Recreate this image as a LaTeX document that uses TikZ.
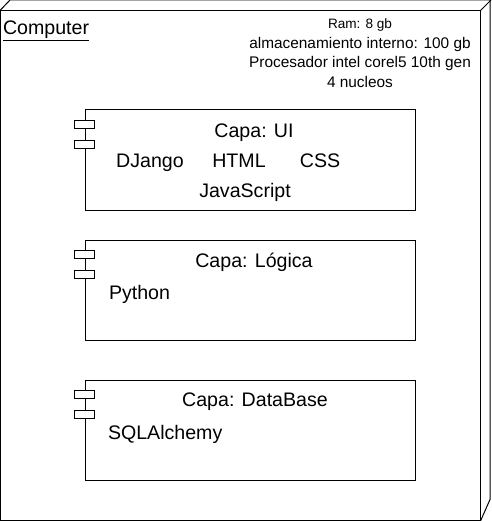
\documentclass[tikz,border=0pt]{standalone}
\usepackage{fontspec}
\setmainfont{Liberation Sans}
\usetikzlibrary{positioning}

\begin{document}
\begin{tikzpicture}[
        x=1pt, y=-1pt,
        line width=1pt,
        device/.style={
          draw,
          rectangle,
          minimum width=479.5pt,
          minimum height=509.5pt,
          inner sep=0pt
        },
        component/.style={
          draw,
          rectangle,
          minimum width=330pt,
          minimum height=100pt,
          inner sep=0pt
        },
        port/.style={
          draw,
          fill=white,
          rectangle,
          minimum width=20pt,
          minimum height=8pt,
          inner sep=0pt
        },
        title/.style={font=\fontsize{19.6}{23}\selectfont, anchor=base, inner sep=0pt},
        tech/.style={font=\fontsize{19.6}{23}\selectfont, anchor=base, inner sep=0pt},
        specs/.style={font=\fontsize{15.4}{19.7}\selectfont, align=center, anchor=north, inner sep=0pt}
      ]
      \useasboundingbox (0,0) rectangle (491,521);

      % Device node (3D box)
      \node[device] (computer) at (240.25,265.75) {};
      \draw (computer.north west) -- ++(10,-10.5) -- ++(480,0) -- ++(0,499.5) -- (computer.south east);
      \draw (computer.north east) -- ++(10.5,-10.5);

      \node[anchor=base west, font=\fontsize{19.6}{23}\selectfont, inner sep=0pt] (computer-label) at (2.5,34.5) {\underline{Computer}};
      \node[specs] (specs) at (360,18) {{\fontsize{13.6}{19.7}\selectfont Ram: 8 gb}\\almacenamiento interno: 100 gb\\Procesador intel corel5 10th gen\\4 nucleos};

      % Components
      \node[component] (ui) at (250,160) {};
      \node[component] (logic) at (250,290) {};
      \node[component] (db) at (250,430) {};

      % Ports on the left side
      \node[port] (ui-p1) at ([yshift=-15pt]ui.north west) {};
      \node[port] (ui-p2) at ([yshift=-35pt]ui.north west) {};
      \node[port] (logic-p1) at ([yshift=-15pt]logic.north west) {};
      \node[port] (logic-p2) at ([yshift=-35pt]logic.north west) {};
      \node[port] (db-p1) at ([yshift=-15pt]db.north west) {};
      \node[port] (db-p2) at ([yshift=-35pt]db.north west) {};

      % Layer texts
      \node[title] (ui-title) at ([xshift=4pt,yshift=-28pt]ui.north) {Capa: UI};
      \node[tech] (django) at (150,168) {DJango};
      \node[tech] (html) at (239,168) {HTML};
      \node[tech] (css) at (320,168) {CSS};
      \node[tech] (js) at (245,197) {JavaScript};

      \node[title] (logic-title) at ([xshift=4pt,yshift=-28pt]logic.north) {Capa: Lógica};
      \node[tech, anchor=base west] (python) at (108.5,299) {Python};

      \node[title] (db-title) at ([xshift=5pt,yshift=-27pt]db.north) {Capa: DataBase};
      \node[tech, anchor=base west] (sqlalchemy) at (107.5,439) {SQLAlchemy};

    \end{tikzpicture}
\end{document}
